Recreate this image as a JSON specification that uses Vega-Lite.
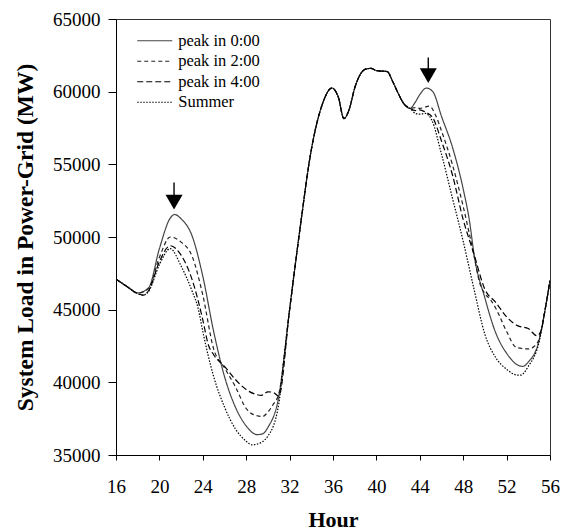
{
  "$schema": "https://vega.github.io/schema/vega-lite/v6.json",
  "width": 434,
  "height": 436,
  "autosize": {"type": "none"},
  "padding": {"left": 116, "top": 19, "right": 12, "bottom": 77},
  "background": "white",
  "config": {
    "font": "Liberation Serif",
    "view": {"stroke": "#333", "strokeWidth": 1},
    "axis": {"grid": false, "domainColor": "#000", "tickColor": "#000", "labelColor": "#000", "titleColor": "#000", "labelFont": "Liberation Serif", "titleFont": "Liberation Serif"}
  },
  "datasets": {
    "load": [
      {"s": "peak in 0:00", "h": 16, "v": 47100}, {"s": "peak in 0:00", "h": 17, "v": 46600}, {"s": "peak in 0:00", "h": 18, "v": 46150}, {"s": "peak in 0:00", "h": 19, "v": 46500}, {"s": "peak in 0:00", "h": 20, "v": 49200}, {"s": "peak in 0:00", "h": 21, "v": 51300}, {"s": "peak in 0:00", "h": 21.4, "v": 51550}, {"s": "peak in 0:00", "h": 22, "v": 51250}, {"s": "peak in 0:00", "h": 23, "v": 50100}, {"s": "peak in 0:00", "h": 24, "v": 47300}, {"s": "peak in 0:00", "h": 25, "v": 43500}, {"s": "peak in 0:00", "h": 26, "v": 40400}, {"s": "peak in 0:00", "h": 27, "v": 38300}, {"s": "peak in 0:00", "h": 28, "v": 37000}, {"s": "peak in 0:00", "h": 29, "v": 36400}, {"s": "peak in 0:00", "h": 29.5, "v": 36450}, {"s": "peak in 0:00", "h": 30, "v": 36900}, {"s": "peak in 0:00", "h": 31, "v": 39000},
      {"s": "peak in 0:00", "h": 32, "v": 45000}, {"s": "peak in 0:00", "h": 33, "v": 50800}, {"s": "peak in 0:00", "h": 34, "v": 56000}, {"s": "peak in 0:00", "h": 35, "v": 59100}, {"s": "peak in 0:00", "h": 35.9, "v": 60250}, {"s": "peak in 0:00", "h": 36.5, "v": 59600}, {"s": "peak in 0:00", "h": 37, "v": 58150}, {"s": "peak in 0:00", "h": 37.5, "v": 58800}, {"s": "peak in 0:00", "h": 38, "v": 60250}, {"s": "peak in 0:00", "h": 39, "v": 61550}, {"s": "peak in 0:00", "h": 39.5, "v": 61600}, {"s": "peak in 0:00", "h": 40, "v": 61450}, {"s": "peak in 0:00", "h": 41, "v": 61380}, {"s": "peak in 0:00", "h": 41.5, "v": 60700}, {"s": "peak in 0:00", "h": 42, "v": 59900}, {"s": "peak in 0:00", "h": 42.5, "v": 59200}, {"s": "peak in 0:00", "h": 43.1, "v": 58850},
      {"s": "peak in 0:00", "h": 43.6, "v": 59300}, {"s": "peak in 0:00", "h": 44, "v": 59800}, {"s": "peak in 0:00", "h": 44.6, "v": 60250}, {"s": "peak in 0:00", "h": 45.2, "v": 60000}, {"s": "peak in 0:00", "h": 46, "v": 58300}, {"s": "peak in 0:00", "h": 47, "v": 56200}, {"s": "peak in 0:00", "h": 48, "v": 53300}, {"s": "peak in 0:00", "h": 48.6, "v": 51000}, {"s": "peak in 0:00", "h": 49, "v": 48800}, {"s": "peak in 0:00", "h": 50, "v": 45800}, {"s": "peak in 0:00", "h": 51, "v": 43400}, {"s": "peak in 0:00", "h": 52, "v": 42000}, {"s": "peak in 0:00", "h": 53, "v": 41200}, {"s": "peak in 0:00", "h": 53.5, "v": 41100}, {"s": "peak in 0:00", "h": 54, "v": 41400}, {"s": "peak in 0:00", "h": 55, "v": 42900}, {"s": "peak in 0:00", "h": 55.5, "v": 44800}, {"s": "peak in 0:00", "h": 56, "v": 47000},

      {"s": "peak in 2:00", "h": 16, "v": 47100}, {"s": "peak in 2:00", "h": 17, "v": 46600}, {"s": "peak in 2:00", "h": 18, "v": 46150}, {"s": "peak in 2:00", "h": 19, "v": 46450}, {"s": "peak in 2:00", "h": 20, "v": 48600}, {"s": "peak in 2:00", "h": 21, "v": 50000}, {"s": "peak in 2:00", "h": 22, "v": 49650}, {"s": "peak in 2:00", "h": 23, "v": 48700}, {"s": "peak in 2:00", "h": 24, "v": 46000}, {"s": "peak in 2:00", "h": 25, "v": 42300}, {"s": "peak in 2:00", "h": 26, "v": 41000}, {"s": "peak in 2:00", "h": 27, "v": 39700}, {"s": "peak in 2:00", "h": 28, "v": 38200}, {"s": "peak in 2:00", "h": 29, "v": 37700}, {"s": "peak in 2:00", "h": 29.5, "v": 37650}, {"s": "peak in 2:00", "h": 30, "v": 37950}, {"s": "peak in 2:00", "h": 30.5, "v": 38500}, {"s": "peak in 2:00", "h": 31, "v": 39200},
      {"s": "peak in 2:00", "h": 32, "v": 45000}, {"s": "peak in 2:00", "h": 33, "v": 50800}, {"s": "peak in 2:00", "h": 34, "v": 56000}, {"s": "peak in 2:00", "h": 35, "v": 59100}, {"s": "peak in 2:00", "h": 35.9, "v": 60250}, {"s": "peak in 2:00", "h": 36.5, "v": 59600}, {"s": "peak in 2:00", "h": 37, "v": 58150}, {"s": "peak in 2:00", "h": 37.5, "v": 58800}, {"s": "peak in 2:00", "h": 38, "v": 60250}, {"s": "peak in 2:00", "h": 39, "v": 61550}, {"s": "peak in 2:00", "h": 39.5, "v": 61600}, {"s": "peak in 2:00", "h": 40, "v": 61450}, {"s": "peak in 2:00", "h": 41, "v": 61380}, {"s": "peak in 2:00", "h": 41.5, "v": 60700}, {"s": "peak in 2:00", "h": 42, "v": 59900}, {"s": "peak in 2:00", "h": 42.5, "v": 59200}, {"s": "peak in 2:00", "h": 43.1, "v": 58850},
      {"s": "peak in 2:00", "h": 43.6, "v": 58900}, {"s": "peak in 2:00", "h": 44, "v": 58850}, {"s": "peak in 2:00", "h": 44.9, "v": 59000}, {"s": "peak in 2:00", "h": 45.5, "v": 58300}, {"s": "peak in 2:00", "h": 46, "v": 57300}, {"s": "peak in 2:00", "h": 47, "v": 55000}, {"s": "peak in 2:00", "h": 48, "v": 52100}, {"s": "peak in 2:00", "h": 49, "v": 48700}, {"s": "peak in 2:00", "h": 49.5, "v": 46900}, {"s": "peak in 2:00", "h": 50, "v": 46100}, {"s": "peak in 2:00", "h": 50.5, "v": 45700}, {"s": "peak in 2:00", "h": 51, "v": 45100}, {"s": "peak in 2:00", "h": 52, "v": 43500}, {"s": "peak in 2:00", "h": 52.9, "v": 42400}, {"s": "peak in 2:00", "h": 54, "v": 42300}, {"s": "peak in 2:00", "h": 54.5, "v": 42450}, {"s": "peak in 2:00", "h": 55, "v": 43000}, {"s": "peak in 2:00", "h": 55.5, "v": 44800}, {"s": "peak in 2:00", "h": 56, "v": 47000},

      {"s": "peak in 4:00", "h": 16, "v": 47100}, {"s": "peak in 4:00", "h": 17, "v": 46600}, {"s": "peak in 4:00", "h": 18, "v": 46100}, {"s": "peak in 4:00", "h": 18.5, "v": 46000}, {"s": "peak in 4:00", "h": 19, "v": 46300}, {"s": "peak in 4:00", "h": 20, "v": 48300}, {"s": "peak in 4:00", "h": 21, "v": 49400}, {"s": "peak in 4:00", "h": 22, "v": 48750}, {"s": "peak in 4:00", "h": 23, "v": 47100}, {"s": "peak in 4:00", "h": 24, "v": 44300}, {"s": "peak in 4:00", "h": 24.5, "v": 42600}, {"s": "peak in 4:00", "h": 25, "v": 41900}, {"s": "peak in 4:00", "h": 26, "v": 41100}, {"s": "peak in 4:00", "h": 27, "v": 40200}, {"s": "peak in 4:00", "h": 28, "v": 39500}, {"s": "peak in 4:00", "h": 29, "v": 39150}, {"s": "peak in 4:00", "h": 29.4, "v": 39100}, {"s": "peak in 4:00", "h": 30, "v": 39350}, {"s": "peak in 4:00", "h": 30.5, "v": 39300}, {"s": "peak in 4:00", "h": 31, "v": 39050},
      {"s": "peak in 4:00", "h": 32, "v": 45000}, {"s": "peak in 4:00", "h": 33, "v": 50800}, {"s": "peak in 4:00", "h": 34, "v": 56000}, {"s": "peak in 4:00", "h": 35, "v": 59100}, {"s": "peak in 4:00", "h": 35.9, "v": 60250}, {"s": "peak in 4:00", "h": 36.5, "v": 59600}, {"s": "peak in 4:00", "h": 37, "v": 58150}, {"s": "peak in 4:00", "h": 37.5, "v": 58800}, {"s": "peak in 4:00", "h": 38, "v": 60250}, {"s": "peak in 4:00", "h": 39, "v": 61550}, {"s": "peak in 4:00", "h": 39.5, "v": 61600}, {"s": "peak in 4:00", "h": 40, "v": 61450}, {"s": "peak in 4:00", "h": 41, "v": 61380}, {"s": "peak in 4:00", "h": 41.5, "v": 60700}, {"s": "peak in 4:00", "h": 42, "v": 59900}, {"s": "peak in 4:00", "h": 42.5, "v": 59200}, {"s": "peak in 4:00", "h": 43.1, "v": 58850},
      {"s": "peak in 4:00", "h": 43.6, "v": 58700}, {"s": "peak in 4:00", "h": 44, "v": 58750}, {"s": "peak in 4:00", "h": 44.5, "v": 58600}, {"s": "peak in 4:00", "h": 45.2, "v": 58200}, {"s": "peak in 4:00", "h": 46, "v": 56600}, {"s": "peak in 4:00", "h": 47, "v": 54300}, {"s": "peak in 4:00", "h": 48, "v": 51200}, {"s": "peak in 4:00", "h": 49, "v": 48800}, {"s": "peak in 4:00", "h": 50, "v": 46400}, {"s": "peak in 4:00", "h": 51, "v": 45500}, {"s": "peak in 4:00", "h": 52, "v": 44500}, {"s": "peak in 4:00", "h": 53, "v": 43900}, {"s": "peak in 4:00", "h": 54, "v": 43700}, {"s": "peak in 4:00", "h": 54.8, "v": 43200}, {"s": "peak in 4:00", "h": 55.2, "v": 43600}, {"s": "peak in 4:00", "h": 55.5, "v": 44800}, {"s": "peak in 4:00", "h": 56, "v": 47000},

      {"s": "Summer", "h": 16, "v": 47100}, {"s": "Summer", "h": 17, "v": 46600}, {"s": "Summer", "h": 18, "v": 46100}, {"s": "Summer", "h": 18.5, "v": 46000}, {"s": "Summer", "h": 19, "v": 46250}, {"s": "Summer", "h": 20, "v": 48100}, {"s": "Summer", "h": 21, "v": 49200}, {"s": "Summer", "h": 22, "v": 48000}, {"s": "Summer", "h": 23, "v": 46300}, {"s": "Summer", "h": 23.6, "v": 45000}, {"s": "Summer", "h": 24, "v": 43500}, {"s": "Summer", "h": 25, "v": 40400}, {"s": "Summer", "h": 26, "v": 38300}, {"s": "Summer", "h": 27, "v": 36800}, {"s": "Summer", "h": 28, "v": 35950}, {"s": "Summer", "h": 28.5, "v": 35700}, {"s": "Summer", "h": 29, "v": 35750}, {"s": "Summer", "h": 30, "v": 36300}, {"s": "Summer", "h": 31, "v": 38500}, {"s": "Summer", "h": 31.5, "v": 41800},
      {"s": "Summer", "h": 32, "v": 45000}, {"s": "Summer", "h": 33, "v": 50800}, {"s": "Summer", "h": 34, "v": 56000}, {"s": "Summer", "h": 35, "v": 59100}, {"s": "Summer", "h": 35.9, "v": 60250}, {"s": "Summer", "h": 36.5, "v": 59600}, {"s": "Summer", "h": 37, "v": 58150}, {"s": "Summer", "h": 37.5, "v": 58800}, {"s": "Summer", "h": 38, "v": 60250}, {"s": "Summer", "h": 39, "v": 61550}, {"s": "Summer", "h": 39.5, "v": 61600}, {"s": "Summer", "h": 40, "v": 61450}, {"s": "Summer", "h": 41, "v": 61380}, {"s": "Summer", "h": 41.5, "v": 60700}, {"s": "Summer", "h": 42, "v": 59900}, {"s": "Summer", "h": 42.5, "v": 59200}, {"s": "Summer", "h": 43.1, "v": 58850},
      {"s": "Summer", "h": 43.6, "v": 58500}, {"s": "Summer", "h": 44, "v": 58450}, {"s": "Summer", "h": 44.5, "v": 58500}, {"s": "Summer", "h": 45.1, "v": 58050}, {"s": "Summer", "h": 46, "v": 55700}, {"s": "Summer", "h": 47, "v": 52700}, {"s": "Summer", "h": 48, "v": 49700}, {"s": "Summer", "h": 49, "v": 46400}, {"s": "Summer", "h": 50, "v": 43300}, {"s": "Summer", "h": 51, "v": 41700}, {"s": "Summer", "h": 52, "v": 40900}, {"s": "Summer", "h": 53, "v": 40500}, {"s": "Summer", "h": 53.3, "v": 40500}, {"s": "Summer", "h": 54, "v": 41100}, {"s": "Summer", "h": 55, "v": 42800}, {"s": "Summer", "h": 55.5, "v": 44800}, {"s": "Summer", "h": 56, "v": 47000}
    ],
    "arrows": [
      {"h": 21.35, "top": 53750, "head": 52400},
      {"h": 44.78, "top": 62350, "head": 61100}
    ]
  },
  "layer": [
    {
      "data": {"name": "load"},
      "mark": {"type": "line", "interpolate": "monotone", "clip": true},
      "encoding": {
        "x": {"field": "h", "type": "quantitative", "scale": {"domain": [16, 56], "nice": false, "zero": false},
              "axis": {"title": "Hour", "values": [16, 20, 24, 28, 32, 36, 40, 44, 48, 52, 56], "labelFontSize": 19, "tickSize": 5, "labelPadding": 17, "titleFontSize": 22, "titleFontWeight": "bold", "titleBaseline": "alphabetic", "titleY": 71, "labelFlush": false, "domainWidth": 1}},
        "y": {"field": "v", "type": "quantitative", "scale": {"domain": [35000, 65000], "nice": false, "zero": false},
              "axis": {"title": "System Load in Power-Grid (MW)", "values": [35000, 40000, 45000, 50000, 55000, 60000, 65000], "format": "d", "labelFontSize": 19, "tickSize": 8, "labelPadding": 8, "titleFontSize": 23.5, "titleFontWeight": "bold", "titleBaseline": "alphabetic", "titleX": -84, "labelFlush": false, "domainWidth": 1}},
        "color": {"field": "s", "type": "nominal",
                  "scale": {"domain": ["peak in 0:00", "peak in 2:00", "peak in 4:00", "Summer"], "range": ["#444444", "#222222", "#000000", "#000000"]},
                  "legend": {"title": null, "orient": "none", "legendX": 30.5, "legendY": 13.5, "symbolType": "M-3.5,0H3.5", "symbolSize": 100, "labelFontSize": 16.5, "labelFont": "Liberation Serif", "labelColor": "#000", "labelOffset": 15.2, "rowPadding": 3.5, "padding": 0}},
        "strokeDash": {"field": "s", "type": "nominal",
                       "scale": {"domain": ["peak in 0:00", "peak in 2:00", "peak in 4:00", "Summer"], "range": [[1, 0], [4, 3], [6, 3], [1.5, 1.5]]},
                       "legend": {"title": null}},
        "strokeWidth": {"field": "s", "type": "nominal",
                        "scale": {"domain": ["peak in 0:00", "peak in 2:00", "peak in 4:00", "Summer"], "range": [1.2, 1.2, 2.8, 2]},
                        "legend": {"title": null}}
      }
    },
    {
      "data": {"name": "arrows"},
      "mark": {"type": "rule", "color": "#000", "strokeWidth": 1.4},
      "encoding": {
        "x": {"field": "h", "type": "quantitative"},
        "y": {"field": "top", "type": "quantitative"},
        "y2": {"field": "head"}
      }
    },
    {
      "data": {"name": "arrows"},
      "mark": {"type": "point", "shape": "triangle-down", "filled": true, "color": "#000", "size": 290, "opacity": 1},
      "encoding": {
        "x": {"field": "h", "type": "quantitative"},
        "y": {"field": "head", "type": "quantitative"}
      }
    }
  ]
}
